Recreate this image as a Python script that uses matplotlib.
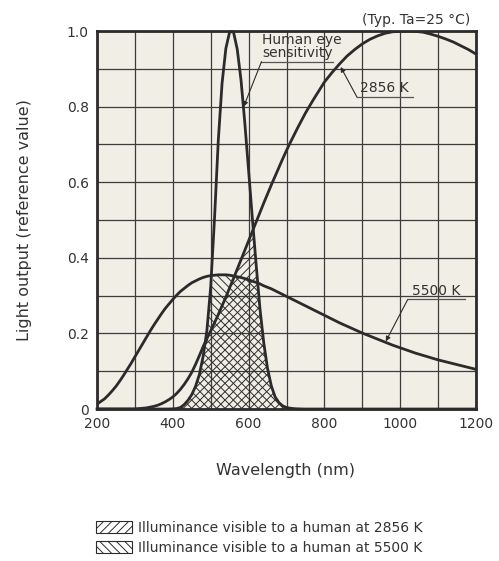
import numpy as np
import matplotlib
matplotlib.use("Agg")
import matplotlib.pyplot as plt
from matplotlib.patches import Patch

# wavelength grid (nm): 10 nm steps up to 800, 20 nm steps beyond
wavelength = np.concatenate([np.arange(200, 800, 10), np.arange(800, 1201, 20)])

# human eye sensitivity (relative)
eye = [0, 0, 0, 0, 0, 0, 0, 0, 0, 0,                                       # 200-290
       0, 0, 0, 0, 0, 0, 0, 0, 0, 0.0001,                                  # 300-390
       0.0004, 0.0012, 0.004, 0.0116, 0.023, 0.038, 0.060, 0.091, 0.139, 0.208,   # 400-490
       0.323, 0.503, 0.710, 0.862, 0.954, 0.998, 0.998, 0.952, 0.870, 0.757,      # 500-590
       0.631, 0.503, 0.381, 0.265, 0.175, 0.107, 0.061, 0.032, 0.017, 0.0082,     # 600-690
       0.0041, 0.0021, 0.0010, 0.0005, 0.0002, 0, 0, 0, 0, 0,              # 700-790
       0, 0, 0, 0, 0, 0, 0, 0, 0, 0, 0, 0, 0, 0, 0, 0, 0, 0, 0, 0, 0]      # 800-1200

# light source 2856 K
lamp_2856 = [0, 0, 0, 0, 0, 0, 0, 0, 0, 0,                                 # 200-290
             0, 0.001, 0.002, 0.003, 0.005, 0.007, 0.010, 0.014, 0.019, 0.025,    # 300-390
             0.032, 0.041, 0.052, 0.065, 0.080, 0.097, 0.118, 0.141, 0.165, 0.186,  # 400-490
             0.207, 0.228, 0.250, 0.273, 0.296, 0.321, 0.345, 0.370, 0.395, 0.420,  # 500-590
             0.445, 0.470, 0.495, 0.520, 0.545, 0.569, 0.593, 0.616, 0.639, 0.662,  # 600-690
             0.684, 0.705, 0.725, 0.745, 0.764, 0.783, 0.800, 0.817, 0.833, 0.849,  # 700-790
             0.865, 0.890, 0.913, 0.934, 0.951, 0.966, 0.978, 0.987, 0.994, 0.998,  # 800-980
             0.999, 1.000, 0.999, 0.997, 0.992, 0.986, 0.979, 0.971, 0.961, 0.951, 0.939]  # 1000-1200

# light source 5500 K
lamp_5500 = [0.013, 0.020, 0.027, 0.037, 0.048, 0.060, 0.074, 0.089, 0.105, 0.121,  # 200-290
             0.138, 0.155, 0.172, 0.189, 0.206, 0.222, 0.237, 0.252, 0.266, 0.278,  # 300-390
             0.290, 0.301, 0.311, 0.319, 0.327, 0.334, 0.339, 0.344, 0.348, 0.351,  # 400-490
             0.353, 0.354, 0.355, 0.355, 0.355, 0.354, 0.352, 0.350, 0.348, 0.345,  # 500-590
             0.342, 0.338, 0.335, 0.331, 0.326, 0.322, 0.318, 0.313, 0.308, 0.303,  # 600-690
             0.298, 0.293, 0.288, 0.283, 0.278, 0.273, 0.268, 0.263, 0.258, 0.253,  # 700-790
             0.248, 0.238, 0.228, 0.219, 0.210, 0.201, 0.193, 0.185, 0.177, 0.169,  # 800-980
             0.162, 0.155, 0.148, 0.142, 0.136, 0.130, 0.125, 0.120, 0.115, 0.110, 0.105]  # 1000-1200

x_ticks = [200, 400, 600, 800, 1000, 1200]
y_ticks = [0, 0.2, 0.4, 0.6, 0.8, 1.0]
y_tick_labels = ["0", "0.2", "0.4", "0.6", "0.8", "1.0"]
legend_labels = ["Illuminance visible to a human at 2856 K",
                 "Illuminance visible to a human at 5500 K"]

ink = "#2b2b2b"
plt.rcParams["font.family"] = ["DejaVu Sans"]
plt.rcParams["hatch.linewidth"] = 0.7

eye = np.array(eye)
lamp_2856 = np.array(lamp_2856)
lamp_5500 = np.array(lamp_5500)

fig = plt.figure(figsize=(4.99, 5.61), dpi=100)
ax = fig.add_axes([0.1944, 0.2709, 0.7595, 0.6738])
ax.set_facecolor("#f1eee6")

ax.set_xlim(200, 1200)
ax.set_ylim(0, 1.0)
ax.set_xticks(x_ticks)
ax.set_xticks(np.arange(300, 1200, 200), minor=True)
ax.set_yticks(y_ticks)
ax.set_yticklabels(y_tick_labels)
ax.set_yticks(np.arange(0.1, 1.0, 0.2), minor=True)
ax.grid(True, which="both", color="#3c3c3c", lw=0.9, zorder=1)
ax.set_axisbelow(True)
ax.tick_params(which="both", length=0, labelsize=10, colors="#333333", pad=6)
for s in ax.spines.values():
    s.set_linewidth(2.0)
    s.set_color(ink)

# visible illuminance areas (under the lower of eye curve and source)
ax.fill_between(wavelength, 0, np.minimum(eye, lamp_2856), facecolor="none",
                edgecolor=ink, hatch="////", lw=0, zorder=2)
ax.fill_between(wavelength, 0, np.minimum(eye, lamp_5500), facecolor="none",
                edgecolor=ink, hatch="\\\\\\\\", lw=0, zorder=2)

ax.plot(wavelength, eye, color=ink, lw=2, zorder=3, clip_on=False)
ax.plot(wavelength, lamp_2856, color=ink, lw=2, zorder=3)
ax.plot(wavelength, lamp_5500, color=ink, lw=2, zorder=3)

# callouts
arrow = dict(arrowstyle="-|>", color=ink, lw=0.8, mutation_scale=7, shrinkA=0, shrinkB=0)
ax.text(636, 0.923, "Human eye\nsensitivity", fontsize=10, color="#333333",
        ha="left", va="bottom", linespacing=0.95)
ax.plot([634, 823], [0.919, 0.919], color="#555555", lw=0.9, zorder=4)
ax.annotate("", xy=(587, 0.80), xytext=(634, 0.919), arrowprops=arrow, zorder=4)

ax.text(958, 0.830, "2856 K", fontsize=10, color="#333333", ha="center", va="bottom")
ax.plot([886, 1034], [0.825, 0.825], color="#555555", lw=0.9, zorder=4)
ax.annotate("", xy=(843, 0.905), xytext=(886, 0.825), arrowprops=arrow, zorder=4)

ax.text(1094, 0.295, "5500 K", fontsize=10, color="#333333", ha="center", va="bottom")
ax.plot([1020, 1171], [0.290, 0.290], color="#555555", lw=0.9, zorder=4)
ax.annotate("", xy=(962, 0.179), xytext=(1020, 0.290), arrowprops=arrow, zorder=4)

ax.text(0.985, 1.03, "(Typ. Ta=25 °C)", transform=ax.transAxes, fontsize=10,
        color="#333333", ha="right", va="center")

fig.text(286 / 499, 1 - 470 / 561, "Wavelength (nm)", fontsize=11.5, color="#333333",
         ha="center", va="center")
fig.text(25 / 499, 1 - 220 / 561, "Light output (reference value)", fontsize=11.5,
         color="#333333", ha="center", va="center", rotation=90)

handles = [Patch(facecolor="white", edgecolor=ink, hatch="////", lw=0.8),
           Patch(facecolor="white", edgecolor=ink, hatch="\\\\\\\\", lw=0.8)]
fig.legend(handles, legend_labels, loc="upper left", bbox_to_anchor=(96 / 499, 1 - 521 / 561),
           frameon=False, fontsize=10, handlelength=2.6, handleheight=0.95,
           handletextpad=0.45, labelspacing=0.4, borderpad=0, borderaxespad=0,
           labelcolor="#333333")

fig.savefig("out.png", dpi=100)
